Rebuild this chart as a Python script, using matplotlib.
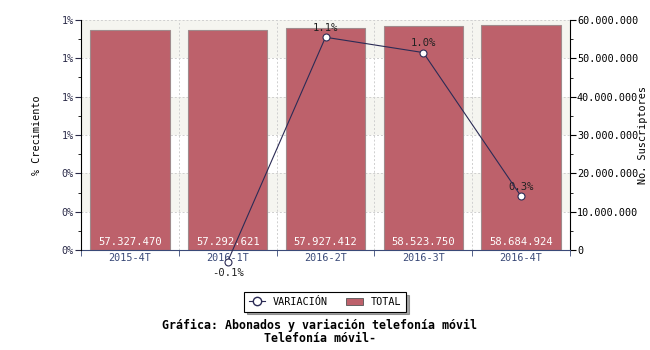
import matplotlib
matplotlib.use('Agg')
import matplotlib.pyplot as plt
import numpy as np
from matplotlib.lines import Line2D
from matplotlib.patches import Patch

periods = ['2015-4T', '2016-1T', '2016-2T', '2016-3T', '2016-4T']
total_subs = [57327470, 57292621, 57927412, 58523750, 58684924]
# quarter-on-quarter growth in %, first quarter has no previous value
growth_idx = [1, 2, 3, 4]
growth_pct = [-0.06, 1.11, 1.03, 0.28]

pct_ticks = [0.0, 0.2, 0.4, 0.6, 0.8, 1.0, 1.2]
subs_ticks = [0, 10e6, 20e6, 30e6, 40e6, 50e6, 60e6]

BAR_COLOR = '#bd616b'
LINE_COLOR = '#2b2b55'
AXIS_BLUE = '#3a4a78'
MONO = 'DejaVu Sans Mono'

plt.rcParams['font.family'] = MONO
plt.rcParams['font.size'] = 7.3


def fmt_thousands(v):
    return f'{int(v):,}'.replace(',', '.')


fig = plt.figure(figsize=(6.5, 3.5), dpi=100)
ax_bar = fig.add_axes([81 / 650, 1 - 250 / 350, (570 - 81) / 650, 230 / 350])
ax_pct = ax_bar.twinx()

x = np.arange(len(periods))

# alternating background bands
for i in range(6):
    color = '#f5f5f0' if i % 2 == 1 else 'white'
    ax_bar.axhspan(subs_ticks[i], subs_ticks[i + 1], color=color, zorder=0, lw=0)

bars = ax_bar.bar(x, total_subs, width=0.81, color=BAR_COLOR,
                  edgecolor='#a08a8c', linewidth=0.8, zorder=2)
for xi, val in zip(x, total_subs):
    ax_bar.annotate(fmt_thousands(val), (xi, 0), xytext=(0, 2.5),
                    textcoords='offset points', ha='center', va='bottom',
                    color='white', fontsize=7.6, zorder=3)

ax_bar.set_xlim(-0.5, len(periods) - 0.5)
ax_bar.set_ylim(0, 60e6)
ax_bar.set_yticks(subs_ticks)
ax_bar.set_yticklabels([fmt_thousands(v) for v in subs_ticks])
ax_bar.set_yticks([v + 5e6 for v in subs_ticks[:-1]], minor=True)
ax_bar.yaxis.tick_right()
ax_bar.yaxis.set_label_position('right')
ax_bar.set_ylabel('No. Suscriptores')
ax_bar.yaxis.set_label_coords((638 - 81) / 489, 0.5)
ax_bar.tick_params(axis='y', which='major', length=4, colors='black', pad=1)
ax_bar.tick_params(axis='y', which='minor', length=2.5)

ax_bar.set_xticks(x)
ax_bar.set_xticklabels(periods, color=AXIS_BLUE)
ax_bar.set_xticks(np.arange(-0.5, len(periods)), minor=True)
ax_bar.tick_params(axis='x', which='major', length=0, pad=2)
ax_bar.tick_params(axis='x', which='minor', length=4, color=AXIS_BLUE)

ax_bar.grid(axis='y', which='major', color='#cfcfcf', linestyle=(0, (2, 2)),
            linewidth=0.7, zorder=1)
for b in np.arange(0.5, len(periods) - 1):
    ax_bar.axvline(b, color='#cfcfcf', linestyle=(0, (2, 2)), linewidth=0.7, zorder=1)
ax_bar.set_axisbelow(True)

ax_bar.spines['top'].set_visible(False)
ax_bar.spines['left'].set_visible(False)
ax_bar.spines['bottom'].set_color(AXIS_BLUE)

# growth line on the left axis
ax_pct.plot(growth_idx, growth_pct, color=LINE_COLOR, linewidth=0.8,
            marker='o', markersize=5, markerfacecolor='white',
            markeredgecolor=LINE_COLOR, markeredgewidth=0.8, clip_on=False, zorder=5)
for xi, v in zip(growth_idx, growth_pct):
    dy = -5 if v < 0 else 3
    ax_pct.annotate(f'{v:.1f}%', (xi, v), xytext=(0, dy), textcoords='offset points',
                    ha='center', va='top' if v < 0 else 'bottom', fontsize=7.6,
                    color='#222222', annotation_clip=False)

ax_pct.set_ylim(0, 1.2)
ax_pct.set_yticks(pct_ticks)
ax_pct.set_yticklabels([f'{v:.0f}%' for v in pct_ticks])
ax_pct.set_yticks([v + 0.1 for v in pct_ticks[:-1]], minor=True)
ax_pct.yaxis.tick_left()
ax_pct.yaxis.set_label_position('left')
ax_pct.set_ylabel('% Crecimiento')
ax_pct.yaxis.set_label_coords((42 - 81) / 489, 0.5)
ax_pct.tick_params(axis='y', which='major', length=4, colors='#2a2a48', pad=1)
ax_pct.tick_params(axis='y', which='minor', length=2.5, color='black')
ax_pct.spines['top'].set_visible(False)
ax_pct.spines['right'].set_visible(False)
ax_pct.spines['bottom'].set_visible(False)

handles = [
    Line2D([], [], color=LINE_COLOR, linewidth=0.8, marker='o', markersize=6,
           markerfacecolor='white', markeredgecolor=LINE_COLOR),
    Patch(facecolor=BAR_COLOR, edgecolor='#555555', linewidth=0.6),
]
leg = fig.legend(handles, ['VARIACIÓN', 'TOTAL'], loc='center',
                 bbox_to_anchor=(0.5, 1 - 302 / 350), ncol=2, frameon=True,
                 fancybox=False, shadow=True, edgecolor='black', framealpha=1,
                 handlelength=1.6, handletextpad=0.8, columnspacing=1.8,
                 borderpad=0.45, fontsize=7.3)
leg.get_frame().set_linewidth(0.8)

fig.text(0.492, 1 - 325 / 350, 'Gráfica: Abonados y variación telefonía móvil',
         ha='center', va='center', fontweight='bold', fontsize=8.4)
fig.text(0.492, 1 - 338 / 350, 'Telefonía móvil-',
         ha='center', va='center', fontweight='bold', fontsize=8.4)

fig.savefig('out.png', dpi=100)
